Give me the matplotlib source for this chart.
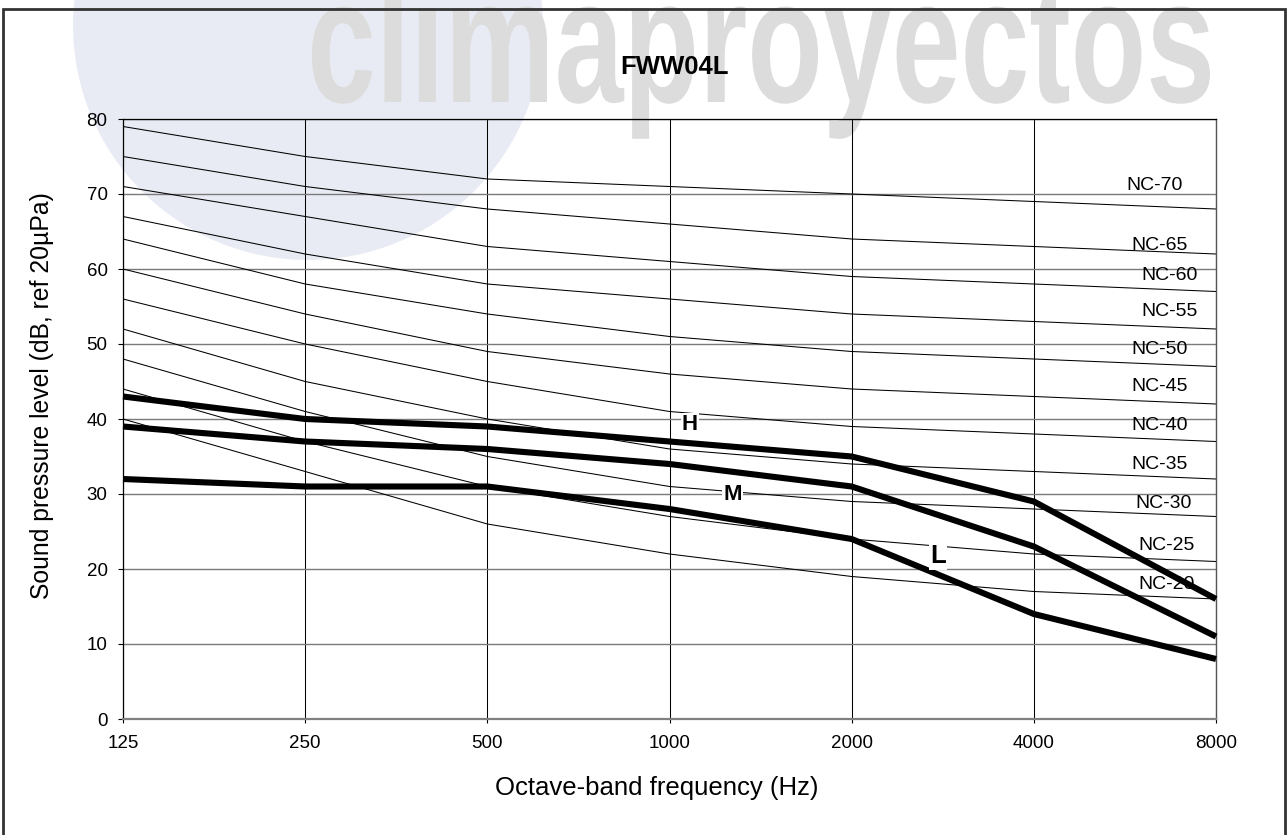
import matplotlib
matplotlib.use("Agg")
import matplotlib.pyplot as plt
from matplotlib.patches import Rectangle, Circle
from matplotlib.patheffects import AbstractPathEffect
from matplotlib.transforms import Affine2D
from matplotlib import font_manager

plt.rcParams['font.family'] = ['Liberation Sans', 'DejaVu Sans']

# ---------------- data ----------------
freqs = [125, 250, 500, 1000, 2000, 4000, 8000]
freq_labels = ['125', '250', '500', '1000', '2000', '4000', '8000']

nc_names = ['NC-70', 'NC-65', 'NC-60', 'NC-55', 'NC-50', 'NC-45',
            'NC-40', 'NC-35', 'NC-30', 'NC-25', 'NC-20']
nc70 = [79, 75, 72, 71, 70, 69, 68]
nc65 = [75, 71, 68, 66, 64, 63, 62]
nc60 = [71, 67, 63, 61, 59, 58, 57]
nc55 = [67, 62, 58, 56, 54, 53, 52]
nc50 = [64, 58, 54, 51, 49, 48, 47]
nc45 = [60, 54, 49, 46, 44, 43, 42]
nc40 = [56, 50, 45, 41, 39, 38, 37]
nc35 = [52, 45, 40, 36, 34, 33, 32]
nc30 = [48, 41, 35, 31, 29, 28, 27]
nc25 = [44, 37, 31, 27, 24, 22, 21]
nc20 = [40, 33, 26, 22, 19, 17, 16]
nc_curves = [nc70, nc65, nc60, nc55, nc50, nc45, nc40, nc35, nc30, nc25, nc20]

# label anchor (frequency, dB) for each NC curve label
nc_label_x = [6340, 6450, 6700, 6700, 6450, 6450, 6450, 6450, 6550, 6620, 6620]
nc_label_y = [71.2, 63.1, 59.2, 54.3, 49.3, 44.3, 39.2, 33.9, 28.8, 23.2, 17.9]

speed_names = ['H', 'M', 'L']
spl_H = [43, 40, 39, 37, 35, 29, 16]
spl_M = [39, 37, 36, 34, 31, 23, 11]
spl_L = [32, 31, 31, 28, 24, 14, 8]
speed_curves = [spl_H, spl_M, spl_L]
speed_label_x = [1081, 1270, 2777]
speed_label_y = [39.2, 30.0, 21.7]
speed_label_size = [16, 16, 18.5]

title = 'FWW04L'
xlabel = 'Octave-band frequency (Hz)'
ylabel = 'Sound pressure level (dB, ref 20µPa)'
yticks = [0, 10, 20, 30, 40, 50, 60, 70, 80]

# ---------------- figure ----------------
W, H = 1288, 835
fig = plt.figure(figsize=(W / 100, H / 100), dpi=100, facecolor='white')

# faint logo background (disc + word mark)
logo = Circle((308, H - 25), 235, transform=None, facecolor='#e9ebf4',
              edgecolor='none', zorder=-3)
fig.patches.append(logo)


class VStretch(AbstractPathEffect):
    def __init__(self, sy, y0):
        super().__init__()
        self.sy = sy
        self.y0 = y0

    def draw_path(self, renderer, gc, tpath, affine, rgbFace=None):
        aff = affine + Affine2D().translate(0, -self.y0).scale(1, self.sy).translate(0, self.y0)
        renderer.draw_path(gc, tpath, aff, rgbFace)


wm_family = 'Liberation Sans'
try:
    font_manager.findfont(font_manager.FontProperties(family='Liberation Sans Narrow'),
                          fallback_to_default=False)
    wm_family = 'Liberation Sans Narrow'
except Exception:
    pass

wm_left, wm_right, wm_base = 307, 1215, 102
wm = fig.text(wm_left / W, 1 - wm_base / H, 'climaproyectos', family=wm_family,
              weight='bold', color='#dcdcdc', fontsize=100, ha='left',
              va='baseline', zorder=-2)
fig.canvas.draw()
bb = wm.get_window_extent()
fs = 100 * (wm_right - wm_left) / bb.width
wm.set_fontsize(fs)
em_px = fs * 100 / 72
sy = 94 / (0.53 * em_px)
wm.set_path_effects([VStretch(sy, H - wm_base)])

# outer frame
frame = Rectangle((3, -10), 1282, H - 9 + 10, transform=None, fill=False,
                  edgecolor='#333333', linewidth=2.0, zorder=1)
fig.patches.append(frame)

# axes
ax_l, ax_r, ax_t, ax_b = 123, 1216, 119, 719
ax = fig.add_axes([ax_l / W, 1 - ax_b / H, (ax_r - ax_l) / W, (ax_b - ax_t) / H])
ax.set_facecolor('none')
ax.set_zorder(0)
ax.set_xscale('log', base=2)
ax.set_xlim(freqs[0], freqs[-1])
ax.set_ylim(yticks[0], yticks[-1])
ax.set_xticks(freqs)
ax.set_xticklabels(freq_labels)
ax.set_yticks(yticks)
ax.xaxis.set_minor_locator(matplotlib.ticker.NullLocator())
ax.tick_params(axis='y', direction='out', length=3.6, width=0.8, pad=7.5,
               labelsize=13.5, colors='black')
ax.tick_params(axis='x', direction='out', length=3, width=0.8, pad=8.5,
               labelsize=13.5, colors='black')

ax.set_axisbelow(True)
ax.yaxis.grid(True, color='#7a7a7a', linewidth=1.0)
ax.xaxis.grid(True, color='black', linewidth=0.75)

for s in ['top', 'left']:
    ax.spines[s].set_color('black')
    ax.spines[s].set_linewidth(0.9)
ax.spines['right'].set_color('#555555')
ax.spines['right'].set_linewidth(1.0)
ax.spines['bottom'].set_color('#808080')
ax.spines['bottom'].set_linewidth(1.6)

# NC curves
for name, vals, lx, ly in zip(nc_names, nc_curves, nc_label_x, nc_label_y):
    ax.plot(freqs, vals, color='black', linewidth=0.75, zorder=2)
    ax.text(lx, ly, name, fontsize=14, ha='center', va='center', zorder=3)

# unit curves
for name, vals, lx, ly, fsz in zip(speed_names, speed_curves, speed_label_x,
                                   speed_label_y, speed_label_size):
    ax.plot(freqs, vals, color='black', linewidth=4.4, zorder=4,
            solid_joinstyle='round', solid_capstyle='butt', clip_on=False)
    ax.text(lx, ly, name, fontsize=fsz, weight='bold', ha='center', va='center',
            zorder=5, bbox=dict(facecolor='white', edgecolor='none', pad=1.0))

ax.set_xlabel(xlabel, fontsize=18.5)
ax.xaxis.set_label_coords((657 - ax_l) / (ax_r - ax_l), (ax_b - 788) / (ax_b - ax_t))
ax.xaxis.label.set_va('center')
ax.set_ylabel(ylabel, fontsize=17.8, va='center')
ax.yaxis.set_label_coords((42 - ax_l) / (ax_r - ax_l), (ax_b - 396) / (ax_b - ax_t))

fig.text(675 / W, 1 - 67 / H, title, fontsize=18.5, weight='bold',
         ha='center', va='center', zorder=6)

fig.savefig('out.png', dpi=100, facecolor='white')
